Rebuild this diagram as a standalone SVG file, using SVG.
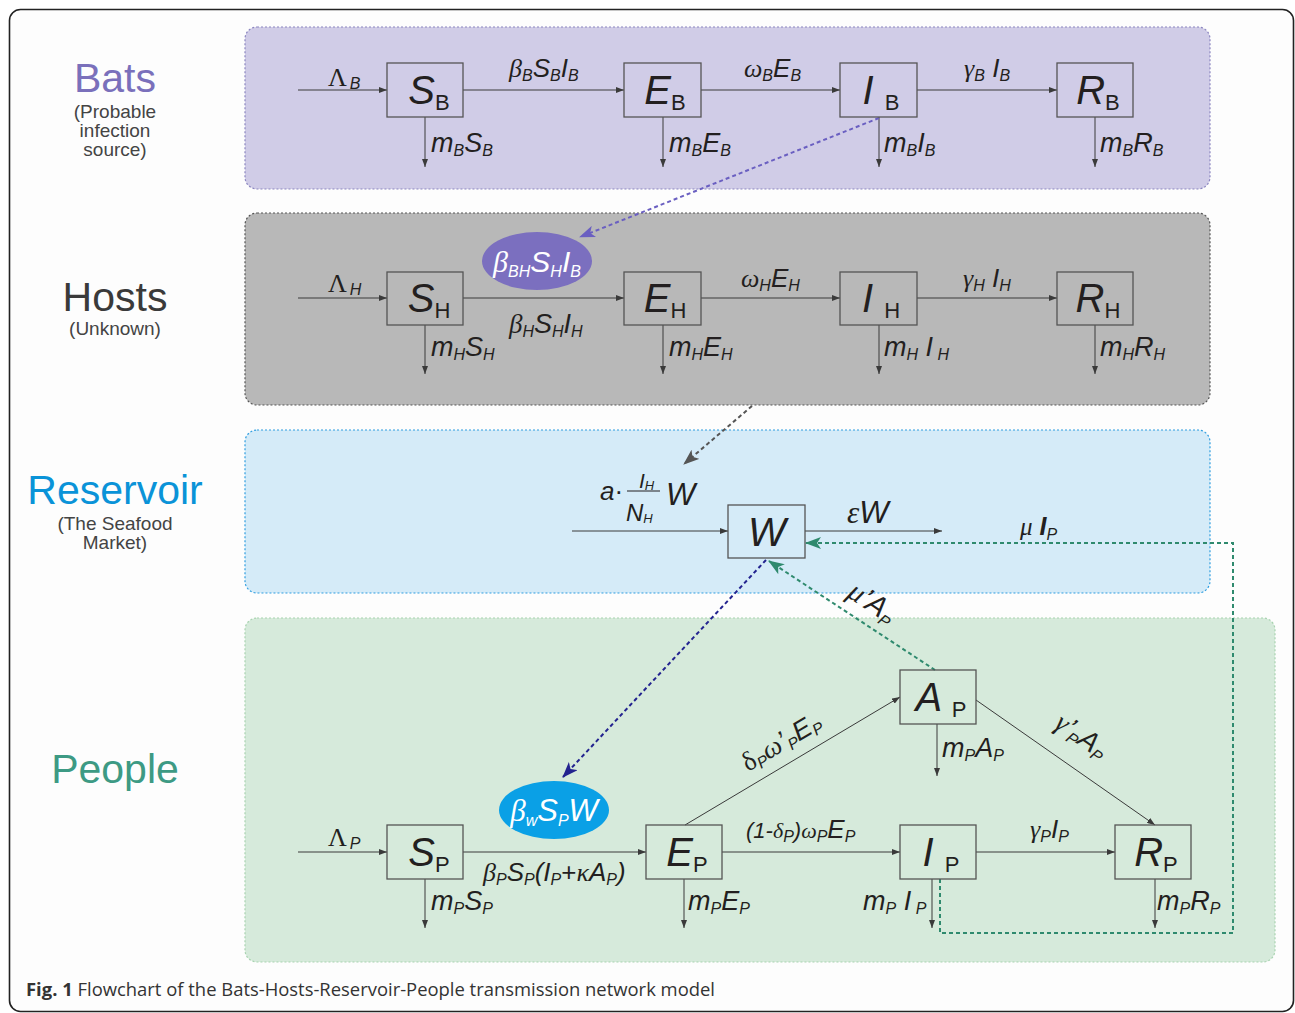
<svg xmlns="http://www.w3.org/2000/svg" width="1295" height="1013" viewBox="0 0 1295 1013">
<style>
.f{font-family:"Liberation Sans",Arial,sans-serif;font-style:italic;font-size:26px;fill:#231f20}
.sb{font-size:16px}
.gk{font-family:"Liberation Serif","Times New Roman",serif;font-style:italic}
.up{font-style:normal}
.bx{font-family:"Liberation Sans",Arial,sans-serif;font-size:40px;font-style:italic;fill:#231f20}
.bs{font-size:22px;font-style:normal}
.box{stroke:#555;stroke-width:1.3}
.ln{stroke:#3a3a3a;stroke-width:1;fill:none}
.lbl{font-family:"Liberation Sans",Arial,sans-serif;font-size:41px;text-anchor:middle}
.sub{font-family:"Liberation Sans",Arial,sans-serif;font-size:19px;text-anchor:middle;fill:#444}
.dash{stroke-width:2;stroke-dasharray:4 3;fill:none}
.wt{fill:#fff}
</style>
<defs>
<marker id="ah" markerUnits="userSpaceOnUse" markerWidth="8" markerHeight="6" refX="8" refY="3" orient="auto"><path d="M0,0 L8,3 L0,6 z" fill="#3a3a3a"/></marker>
<marker id="ap" markerUnits="userSpaceOnUse" markerWidth="16" markerHeight="12" refX="15" refY="6" orient="auto"><path d="M0,0 L16,6 L0,12 L4,6 z" fill="#6a5fc1"/></marker>
<marker id="ag" markerUnits="userSpaceOnUse" markerWidth="16" markerHeight="12" refX="15" refY="6" orient="auto"><path d="M0,0 L16,6 L0,12 L4,6 z" fill="#555"/></marker>
<marker id="an" markerUnits="userSpaceOnUse" markerWidth="16" markerHeight="12" refX="15" refY="6" orient="auto"><path d="M0,0 L16,6 L0,12 L4,6 z" fill="#23238f"/></marker>
<marker id="at" markerUnits="userSpaceOnUse" markerWidth="16" markerHeight="12" refX="15" refY="6" orient="auto"><path d="M0,0 L16,6 L0,12 L4,6 z" fill="#2f8a6e"/></marker>
</defs>

<rect x="9.5" y="9.5" width="1284" height="1002" rx="11" fill="#fdfdfd" stroke="#222" stroke-width="1.6"/>

<g id="panels">
<rect id="panel-bats" x="245" y="27" width="965" height="162" rx="12" fill="#d0cce7" stroke="#8c86c0" stroke-width="1.2" stroke-dasharray="2 2"/>
<rect id="panel-hosts" x="245" y="213" width="965" height="192" rx="12" fill="#b8b8b8" stroke="#555" stroke-width="1.2" stroke-dasharray="2 2"/>
<rect id="panel-reservoir" x="245" y="430" width="965" height="163" rx="12" fill="#d5ebf8" stroke="#2f9ee0" stroke-width="1.2" stroke-dasharray="2 2"/>
<rect id="panel-people" x="245" y="618" width="1030" height="344" rx="12" fill="#d6eadb" stroke="#a8d3b0" stroke-width="1.2" stroke-dasharray="2 2"/>
</g>

<g id="side-labels">
<text class="lbl" x="115" y="92" fill="#7a70bb">Bats</text>
<text class="sub" x="115" y="118">(Probable</text>
<text class="sub" x="115" y="137">infection</text>
<text class="sub" x="115" y="156">source)</text>
<text class="lbl" x="115" y="311" fill="#3a3a3a">Hosts</text>
<text class="sub" x="115" y="335">(Unknown)</text>
<text class="lbl" x="115" y="504" fill="#0a93d8">Reservoir</text>
<text class="sub" x="115" y="530">(The Seafood</text>
<text class="sub" x="115" y="549">Market)</text>
<text class="lbl" x="115" y="783" fill="#3d9a84">People</text>
</g>

<g id="connectors">
<!-- Bats -->
<line class="ln" x1="298" y1="90" x2="387" y2="90" marker-end="url(#ah)"/>
<line class="ln" x1="463" y1="90" x2="624" y2="90" marker-end="url(#ah)"/>
<line class="ln" x1="701" y1="90" x2="840" y2="90" marker-end="url(#ah)"/>
<line class="ln" x1="917" y1="90" x2="1057" y2="90" marker-end="url(#ah)"/>
<line class="ln" x1="425" y1="117" x2="425" y2="167" marker-end="url(#ah)"/>
<line class="ln" x1="663" y1="117" x2="663" y2="167" marker-end="url(#ah)"/>
<line class="ln" x1="879" y1="117" x2="879" y2="167" marker-end="url(#ah)"/>
<line class="ln" x1="1095" y1="117" x2="1095" y2="167" marker-end="url(#ah)"/>
<!-- Hosts -->
<line class="ln" x1="298" y1="298" x2="387" y2="298" marker-end="url(#ah)"/>
<line class="ln" x1="463" y1="298" x2="624" y2="298" marker-end="url(#ah)"/>
<line class="ln" x1="701" y1="298" x2="840" y2="298" marker-end="url(#ah)"/>
<line class="ln" x1="917" y1="298" x2="1057" y2="298" marker-end="url(#ah)"/>
<line class="ln" x1="425" y1="325" x2="425" y2="374" marker-end="url(#ah)"/>
<line class="ln" x1="663" y1="325" x2="663" y2="374" marker-end="url(#ah)"/>
<line class="ln" x1="879" y1="325" x2="879" y2="374" marker-end="url(#ah)"/>
<line class="ln" x1="1095" y1="325" x2="1095" y2="374" marker-end="url(#ah)"/>
<!-- Reservoir -->
<line class="ln" x1="572" y1="531" x2="728" y2="531" marker-end="url(#ah)"/>
<line class="ln" x1="805" y1="531" x2="942" y2="531" marker-end="url(#ah)"/>
<!-- People -->
<line class="ln" x1="298" y1="852" x2="387" y2="852" marker-end="url(#ah)"/>
<line class="ln" x1="463" y1="852" x2="646" y2="852" marker-end="url(#ah)"/>
<line class="ln" x1="722" y1="852" x2="900" y2="852" marker-end="url(#ah)"/>
<line class="ln" x1="976" y1="852" x2="1115" y2="852" marker-end="url(#ah)"/>
<line class="ln" x1="685" y1="825" x2="900" y2="697" marker-end="url(#ah)"/>
<line class="ln" x1="976" y1="700" x2="1155" y2="825" marker-end="url(#ah)"/>
<line class="ln" x1="425" y1="879" x2="425" y2="928" marker-end="url(#ah)"/>
<line class="ln" x1="684" y1="879" x2="684" y2="928" marker-end="url(#ah)"/>
<line class="ln" x1="937" y1="724" x2="937" y2="776" marker-end="url(#ah)"/>
<line class="ln" x1="932" y1="879" x2="932" y2="928" marker-end="url(#ah)"/>
<line class="ln" x1="1155" y1="879" x2="1155" y2="928" marker-end="url(#ah)"/>
<!-- dashed transmissions -->
<line class="dash" x1="879" y1="118" x2="580" y2="237" stroke="#6a5fc1" marker-end="url(#ap)"/>
<line class="dash" x1="752" y1="406" x2="684" y2="464" stroke="#555" marker-end="url(#ag)"/>
<line class="dash" x1="766" y1="560" x2="563" y2="777" stroke="#23238f" marker-end="url(#an)"/>
<line class="dash" x1="935" y1="670" x2="769" y2="561" stroke="#2f8a6e" marker-end="url(#at)"/>
<polyline class="dash" points="940,879 940,933 1233,933 1233,543 806,543" stroke="#2f8a6e" marker-end="url(#at)"/>
</g>

<g id="node-SB"><rect class="box" x="387" y="63" width="76" height="54" fill="none"/><text class="bx" x="429" y="104" text-anchor="middle">S<tspan class="bs" dy="6">B</tspan></text></g>
<g id="node-EB"><rect class="box" x="624" y="63" width="77" height="54" fill="none"/><text class="bx" x="665" y="104" text-anchor="middle">E<tspan class="bs" dy="6">B</tspan></text></g>
<g id="node-IB"><rect class="box" x="840" y="63" width="77" height="54" fill="none"/><text class="bx" x="881" y="104" text-anchor="middle">I <tspan class="bs" dy="6">B</tspan></text></g>
<g id="node-RB"><rect class="box" x="1057" y="63" width="76" height="54" fill="none"/><text class="bx" x="1098" y="104" text-anchor="middle">R<tspan class="bs" dy="6">B</tspan></text></g>

<g id="node-SH"><rect class="box" x="387" y="272" width="76" height="53" fill="none"/><text class="bx" x="429" y="312" text-anchor="middle">S<tspan class="bs" dy="6">H</tspan></text></g>
<g id="node-EH"><rect class="box" x="624" y="272" width="77" height="53" fill="none"/><text class="bx" x="665" y="312" text-anchor="middle">E<tspan class="bs" dy="6">H</tspan></text></g>
<g id="node-IH"><rect class="box" x="840" y="272" width="77" height="53" fill="none"/><text class="bx" x="881" y="312" text-anchor="middle">I <tspan class="bs" dy="6">H</tspan></text></g>
<g id="node-RH"><rect class="box" x="1057" y="272" width="76" height="53" fill="none"/><text class="bx" x="1098" y="312" text-anchor="middle">R<tspan class="bs" dy="6">H</tspan></text></g>

<g id="node-BH"><ellipse cx="537" cy="261" rx="55" ry="29" fill="#7b6fbf"/><text class="f wt" x="537" y="272" text-anchor="middle" style="font-size:30px"><tspan class="gk">β</tspan><tspan class="sb" dy="5">BH</tspan><tspan dy="-5">S</tspan><tspan class="sb" dy="5">H</tspan><tspan dy="-5">I</tspan><tspan class="sb" dy="5">B</tspan></text></g>

<g id="node-W"><rect class="box" x="728" y="505" width="77" height="53" fill="none"/><text class="bx" x="767" y="546" text-anchor="middle">W</text></g>

<g id="node-SP"><rect class="box" x="387" y="825" width="76" height="54" fill="none"/><text class="bx" x="429" y="866" text-anchor="middle">S<tspan class="bs" dy="6">P</tspan></text></g>
<g id="node-EP"><rect class="box" x="646" y="825" width="76" height="54" fill="none"/><text class="bx" x="687" y="866" text-anchor="middle">E<tspan class="bs" dy="6">P</tspan></text></g>
<g id="node-IP"><rect class="box" x="900" y="825" width="76" height="54" fill="none"/><text class="bx" x="941" y="866" text-anchor="middle">I <tspan class="bs" dy="6">P</tspan></text></g>
<g id="node-RP"><rect class="box" x="1115" y="825" width="76" height="54" fill="none"/><text class="bx" x="1156" y="866" text-anchor="middle">R<tspan class="bs" dy="6">P</tspan></text></g>
<g id="node-AP"><rect class="box" x="900" y="670" width="76" height="54" fill="none"/><text class="bx" x="941" y="711" text-anchor="middle">A <tspan class="bs" dy="6">P</tspan></text></g>

<g id="node-BW"><ellipse cx="554" cy="810" rx="55" ry="29" fill="#0aa0e6"/><text class="f wt" x="554" y="821" text-anchor="middle" style="font-size:31px"><tspan class="gk">β</tspan><tspan class="sb" dy="5">w</tspan><tspan dy="-5">S</tspan><tspan class="sb" dy="5">P</tspan><tspan dy="-5">W</tspan></text></g>

<g id="rate-labels">
<!-- Bats -->
<text class="f" x="328" y="86"><tspan class="gk up">Λ</tspan><tspan class="sb" dx="3" dy="3">B</tspan></text>
<text class="f" x="509" y="77"><tspan class="gk">β</tspan><tspan class="sb" dy="4">B</tspan><tspan dy="-4">S</tspan><tspan class="sb" dy="4">B</tspan><tspan dy="-4">I</tspan><tspan class="sb" dy="4">B</tspan></text>
<text class="f" x="744" y="77"><tspan class="gk">ω</tspan><tspan class="sb" dy="4">B</tspan><tspan dy="-4">E</tspan><tspan class="sb" dy="4">B</tspan></text>
<text class="f" x="964" y="77"><tspan class="gk">γ</tspan><tspan class="sb" dy="4">B</tspan><tspan dy="-4"> I</tspan><tspan class="sb" dy="4">B</tspan></text>
<text class="f" x="431" y="152" style="font-size:27px">m<tspan class="sb" dy="4">B</tspan><tspan dy="-4">S</tspan><tspan class="sb" dy="4">B</tspan></text>
<text class="f" x="669" y="152" style="font-size:27px">m<tspan class="sb" dy="4">B</tspan><tspan dy="-4">E</tspan><tspan class="sb" dy="4">B</tspan></text>
<text class="f" x="884" y="152" style="font-size:27px">m<tspan class="sb" dy="4">B</tspan><tspan dy="-4">I</tspan><tspan class="sb" dy="4">B</tspan></text>
<text class="f" x="1100" y="152" style="font-size:27px">m<tspan class="sb" dy="4">B</tspan><tspan dy="-4">R</tspan><tspan class="sb" dy="4">B</tspan></text>
<!-- Hosts -->
<text class="f" x="328" y="292"><tspan class="gk up">Λ</tspan><tspan class="sb" dx="3" dy="3">H</tspan></text>
<text class="f" x="741" y="287"><tspan class="gk">ω</tspan><tspan class="sb" dy="4">H</tspan><tspan dy="-4">E</tspan><tspan class="sb" dy="4">H</tspan></text>
<text class="f" x="963" y="287"><tspan class="gk">γ</tspan><tspan class="sb" dy="4">H</tspan><tspan dy="-4"> I</tspan><tspan class="sb" dy="4">H</tspan></text>
<text class="f" x="509" y="333" style="font-size:27px"><tspan class="gk">β</tspan><tspan class="sb" dy="4">H</tspan><tspan dy="-4">S</tspan><tspan class="sb" dy="4">H</tspan><tspan dy="-4">I</tspan><tspan class="sb" dy="4">H</tspan></text>
<text class="f" x="431" y="356" style="font-size:27px">m<tspan class="sb" dy="4">H</tspan><tspan dy="-4">S</tspan><tspan class="sb" dy="4">H</tspan></text>
<text class="f" x="669" y="356" style="font-size:27px">m<tspan class="sb" dy="4">H</tspan><tspan dy="-4">E</tspan><tspan class="sb" dy="4">H</tspan></text>
<text class="f" x="884" y="356" style="font-size:27px">m<tspan class="sb" dy="4">H</tspan><tspan dy="-4"> I</tspan><tspan class="sb" dy="4"> H</tspan></text>
<text class="f" x="1100" y="356" style="font-size:27px">m<tspan class="sb" dy="4">H</tspan><tspan dy="-4">R</tspan><tspan class="sb" dy="4">H</tspan></text>
<!-- Reservoir -->
<text class="f" x="600" y="500" style="font-size:26px">a<tspan class="up">·</tspan></text>
<line x1="627" y1="491" x2="660" y2="491" stroke="#231f20" stroke-width="1"/>
<text class="f" x="639" y="488" style="font-size:21px">I<tspan class="sb" style="font-size:13px" dy="2">H</tspan></text>
<text class="f" x="626" y="521" style="font-size:24px">N<tspan class="sb" style="font-size:13px" dy="2">H</tspan></text>
<text class="f" x="666" y="505" style="font-size:31px">W</text>
<text class="f" x="847" y="523" style="font-size:31px"><tspan class="gk">ε</tspan>W</text>
<text class="f" x="1020" y="535" style="font-size:25px"><tspan class="gk">μ</tspan><tspan style="font-weight:bold"> I</tspan><tspan class="sb" dy="5">P</tspan></text>
<text class="f" transform="translate(846,596) rotate(33.7)" style="font-size:29px"><tspan class="gk">μ</tspan>’A<tspan class="sb" dy="5">P</tspan></text>
<!-- People -->
<text class="f" x="328" y="846"><tspan class="gk up">Λ</tspan><tspan class="sb" dx="3" dy="3">P</tspan></text>
<text class="f" x="483" y="881"><tspan class="gk">β</tspan><tspan class="sb" dy="4">P</tspan><tspan dy="-4">S</tspan><tspan class="sb" dy="4">P</tspan><tspan dy="-4">(I</tspan><tspan class="sb" dy="4">P</tspan><tspan dy="-4" class="up">+</tspan><tspan class="gk">κ</tspan>A<tspan class="sb" dy="4">P</tspan><tspan dy="-4">)</tspan></text>
<text class="f" x="431" y="910" style="font-size:27px">m<tspan class="sb" dy="4">P</tspan><tspan dy="-4">S</tspan><tspan class="sb" dy="4">P</tspan></text>
<text class="f" x="688" y="910" style="font-size:27px">m<tspan class="sb" dy="4">P</tspan><tspan dy="-4">E</tspan><tspan class="sb" dy="4">P</tspan></text>
<text class="f" x="746" y="838" style="font-size:22px">(1-<tspan class="gk">δ</tspan><tspan class="sb" dy="4">P</tspan><tspan dy="-4">)</tspan><tspan class="gk">ω</tspan><tspan class="sb" dy="4">P</tspan><tspan dy="-4" style="font-size:26px">E</tspan><tspan class="sb" dy="4">P</tspan></text>
<text class="f" x="1030" y="838"><tspan class="gk">γ</tspan><tspan class="sb" dy="4">P</tspan><tspan dy="-4">I</tspan><tspan class="sb" dy="4">P</tspan></text>
<text class="f" x="942" y="757" style="font-size:27px">m<tspan class="sb" dy="4">P</tspan><tspan dy="-4">A</tspan><tspan class="sb" dy="4">P</tspan></text>
<text class="f" x="863" y="910" style="font-size:27px">m<tspan class="sb" dy="4">P</tspan><tspan dy="-4"> I</tspan><tspan class="sb" dy="4"> P</tspan></text>
<text class="f" x="1157" y="910" style="font-size:27px">m<tspan class="sb" dy="4">P</tspan><tspan dy="-4">R</tspan><tspan class="sb" dy="4">P</tspan></text>
<text class="f" transform="translate(748,772) rotate(-30.8)" style="font-size:27px"><tspan class="gk up">δ</tspan><tspan class="sb" dy="4">P</tspan><tspan dy="-4" class="gk">ω</tspan><tspan>’</tspan><tspan class="sb" dy="4">P</tspan><tspan dy="-4">E</tspan><tspan class="sb" dy="4">P</tspan></text>
<text class="f" transform="translate(1053,727) rotate(35)" style="font-size:28px"><tspan class="gk">γ</tspan>’<tspan class="sb" dy="4">P</tspan><tspan dy="-4">A</tspan><tspan class="sb" dy="4">P</tspan></text>
</g>

<g id="caption">
<text x="26" y="996" style="font-family:'Open Sans','Noto Sans',sans-serif;font-size:18px;fill:#333" textLength="689" lengthAdjust="spacingAndGlyphs"><tspan style="font-weight:bold">Fig. 1</tspan> Flowchart of the Bats-Hosts-Reservoir-People transmission network model</text>
</g>
</svg>
